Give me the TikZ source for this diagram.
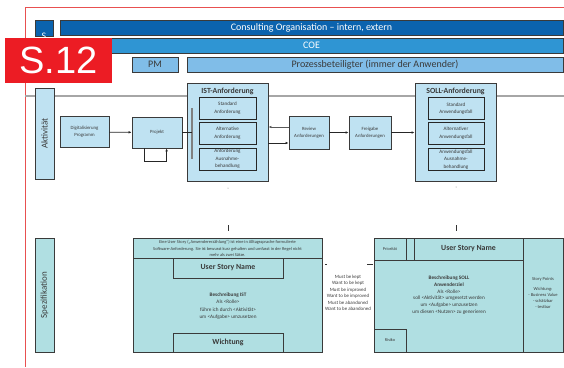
\documentclass[tikz,border=0pt]{standalone}
\usepackage{fontspec}
\setmainfont{Carlito}
\newfontfamily\labelfont{Liberation Sans}
\usetikzlibrary{calc, arrows.meta}

\definecolor{coblue}{HTML}{0B63AE}
\definecolor{coeblue}{HTML}{2F95D3}
\definecolor{pmblue}{HTML}{80BDE8}
\definecolor{actfill}{HTML}{BFE2F2}
\definecolor{specfill}{HTML}{B0DFE2}
\definecolor{linegray}{HTML}{3A3A3A}
\definecolor{labred}{HTML}{EC1C24}
\definecolor{txtgray}{HTML}{3A3A3A}
\definecolor{framered}{HTML}{E85050}

\tikzset{
  dim/.style 2 args={minimum width=#1pt, minimum height=#2pt},
  bar/.style={draw=linegray, line width=0.8pt, inner sep=0pt, font=\fontsize{10}{12}\selectfont},
  actbox/.style={draw=linegray, fill=actfill, line width=0.8pt, align=center, inner sep=0pt, text=txtgray, font=\fontsize{4.8}{6.8}\selectfont},
  groupbox/.style={draw=linegray, fill=actfill, line width=0.9pt, inner sep=0pt},
  subbox/.style={draw=black!85, fill=actfill, line width=0.8pt, align=center, inner sep=0pt, text=txtgray, font=\fontsize{5.1}{7.5}\selectfont},
  specbox/.style={draw=linegray, fill=specfill, line width=0.9pt, inner sep=0pt},
  spectext/.style={align=center, text=txtgray, inner sep=0pt, font=\fontsize{4.4}{6.6}\selectfont},
  sidebox/.style={draw=linegray, line width=0.8pt, inner sep=0pt, rotate=90, text=txtgray, font=\fontsize{9}{10}\selectfont},
  titel/.style={text=txtgray, inner sep=0pt, font=\bfseries\fontsize{7.8}{9}\selectfont},
  namebox/.style={specbox, text=txtgray, font=\bfseries\fontsize{7.8}{9}\selectfont},
  pfeil/.style={-{Latex[length=3pt,width=2.6pt]}, line width=0.7pt, black!85},
}

\begin{document}
\begin{tikzpicture}[x=1pt, y=-1pt]
  \useasboundingbox (0,0) rectangle (564,367);

  % rahmen
  \draw[framered, line width=0.7pt] (564,7) -- (25,7) -- (25,367);
  \draw[gray!70, line width=1.4pt] (25,96) -- (564,96);

  % organisation
  \node[bar, fill=coblue, text=white, dim={18}{16}] (orgs) at (44,28) {\smash{\raisebox{-11pt}{S}}};
  \node[bar, fill=coblue, text=white, dim={503}{15}] (consult) at (311.5,27.5) {Consulting Organisation -- intern, extern};
  \node[bar, fill=coeblue, text=white, dim={503}{15}] (coe) at (311.5,45.5) {COE};
  \node[bar, fill=pmblue, text=txtgray, dim={46}{15}] (pm) at (155,64.5) {PM};
  \node[bar, fill=pmblue, text=txtgray, dim={376}{15}] (proz) at (375,64.5) {Prozessbeteiligter (immer der Anwender)};

  % aktivitaet
  \node[sidebox, fill=actfill, dim={91}{19}] (akt) at (44.5,133.5) {Aktivität};
  \node[actbox, dim={49}{31}] (dig) at (84.5,132) {Digitalisierung\\Programm};
  \node[actbox, dim={50}{31}] (proj) at (157,132.5) {Projekt};

  % ist-anforderung
  \node[groupbox, dim={81}{98}] (ist) at (227.5,132) {};
  \node[titel] (isttitel) at (227.5,91) {IST-Anforderung};
  \draw[gray, line width=1.5pt] (192,108) -- (192,159);
  \coordinate (istbar) at (192,132.5);
  \node[subbox, dim={57}{22}] (iststd) at (227.5,108) {Standard\\Anforderung};
  \node[subbox, dim={57}{22}] (istalt) at (227.5,133) {Alternative\\Anforderung};
  \node[subbox, dim={57}{22}] (istaus) at (227.5,159) {Anforderung\\Ausnahme-\\behandlung};

  \node[actbox, dim={40}{33}] (review) at (309,132.5) {Review\\Anforderungen};
  \node[actbox, dim={42}{33}] (freigabe) at (370,132.5) {Freigabe\\Anforderungen};

  % soll-anforderung
  \node[groupbox, dim={81}{98}] (soll) at (455.5,132) {};
  \node[titel] (solltitel) at (455.5,91) {SOLL-Anforderung};
  \node[subbox, dim={56}{22}] (sollstd) at (456,108.5) {Standard\\Anwendungsfall};
  \node[subbox, dim={56}{22}] (sollalt) at (456,133) {Alternativer\\Anwendungsfall};
  \node[subbox, dim={56}{22}] (sollaus) at (456,159.5) {Anwendungsfall\\Ausnahme-\\behandlung};

  % pfeile
  \draw[pfeil] (dig) -- (proj);
  \draw[line width=0.7pt, black!85] (proj.east) -- (istbar);
  \draw[pfeil] (proj.south west) ++(13,0) -- ++(0,13) -- ++(22,0) -- ++(0,-13);
  \draw[pfeil, black!65] ($(review.west)+(0,-5.5)$) -- ($(ist.east)+(0,-5)$);
  \draw[pfeil] ($(ist.east)+(0,11)$) -- ($(review.west)+(0,10.5)$);
  \draw[pfeil] (review) -- (freigabe);
  \draw[pfeil] (freigabe) -- (freigabe -| soll.west);

  % kleine markierungen
  \fill[gray] (228,188) circle (0.5);
  \fill[gray] (456,187) circle (0.5);
  \draw[line width=1pt, black!80] (228,225) -- (228,231);
  \draw[line width=1pt, black!80] (456,225) -- (456,231);
  \draw[line width=0.6pt, black!80] (325,264) -- (327,264);
  \draw[line width=0.6pt, black!80] (367,264) -- (373,264);

  % spezifikation
  \node[sidebox, fill=specfill, dim={114}{19}] (spez) at (44.5,295) {Spezifikation};

  % user story ist
  \node[specbox, dim={189}{114}] (istspec) at (227.5,295) {};
  \draw[linegray, line width=0.8pt] (133,258) -- (322,258);
  \node[spectext, font=\fontsize{4.4}{6.5}\selectfont] (isthinweis) at (227.5,248.5)
    {Eine User Story („Anwendererzählung“) ist eine in Alltagssprache formulierte\\
     Software-Anforderung. Sie ist bewusst kurz gehalten und umfasst in der Regel nicht\\
     mehr als zwei Sätze.};
  \node[namebox, dim={110}{20}] (istname) at (228,268) {User Story Name};
  \node[spectext, font=\fontsize{5.2}{7.3}\selectfont] (istbeschr) at (228,306)
    {\textbf{Beschreibung IST}\\Als <Rolle>\\führe ich durch <Aktivität>\\um <Aufgabe> umzusetzen};
  \node[namebox, dim={110}{19}] (istwicht) at (228,342.5) {Wichtung};

  % prioritaeten
  \node[spectext, font=\fontsize{4.9}{6.5}\selectfont] (prioliste) at (348,293)
    {Must be kept\\Want to be kept\\Must be improved\\Want to be improved\\Must be abandoned\\Want to be abandoned};

  % user story soll
  \node[specbox, dim={189}{114}] (sollspec) at (468.5,295) {};
  \draw[linegray, line width=0.8pt] (374,260) -- (523,260);
  \draw[linegray, line width=0.8pt] (523,238) -- (523,352);
  \node[specbox, dim={32}{22}, text=txtgray, font=\fontsize{4.3}{5}\selectfont] (prio) at (390,249) {Priorität};
  \node[namebox, dim={109}{22}] (sollname) at (468.5,249) {User Story Name};
  \node[specbox, dim={32}{23}, text=txtgray, font=\fontsize{4.3}{5}\selectfont] (risiko) at (390,340.5) {Risiko};
  \node[spectext, font=\fontsize{5.2}{6.7}\selectfont] (sollbeschr) at (449,295)
    {\textbf{Beschreibung SOLL}\\\textbf{Anwenderziel}\\Als <Rolle>\\soll <Aktivität> umgesetzt werden\\um <Aufgabe> umzusetzen\\um diesen <Nutzen> zu generieren};
  \node[spectext, font=\fontsize{4.5}{6}\selectfont] (punkte) at (543,293)
    {Story Points\\[4pt]Wichtung:\\- Business Value\\- schätzbar\\- testbar};

  % folienlabel
  \node[fill=labred, text=white, dim={107}{45}, inner sep=0pt, font=\labelfont\fontsize{38}{38}\selectfont] (label) at (58.5,60.5) {S.12};
\end{tikzpicture}
\end{document}
